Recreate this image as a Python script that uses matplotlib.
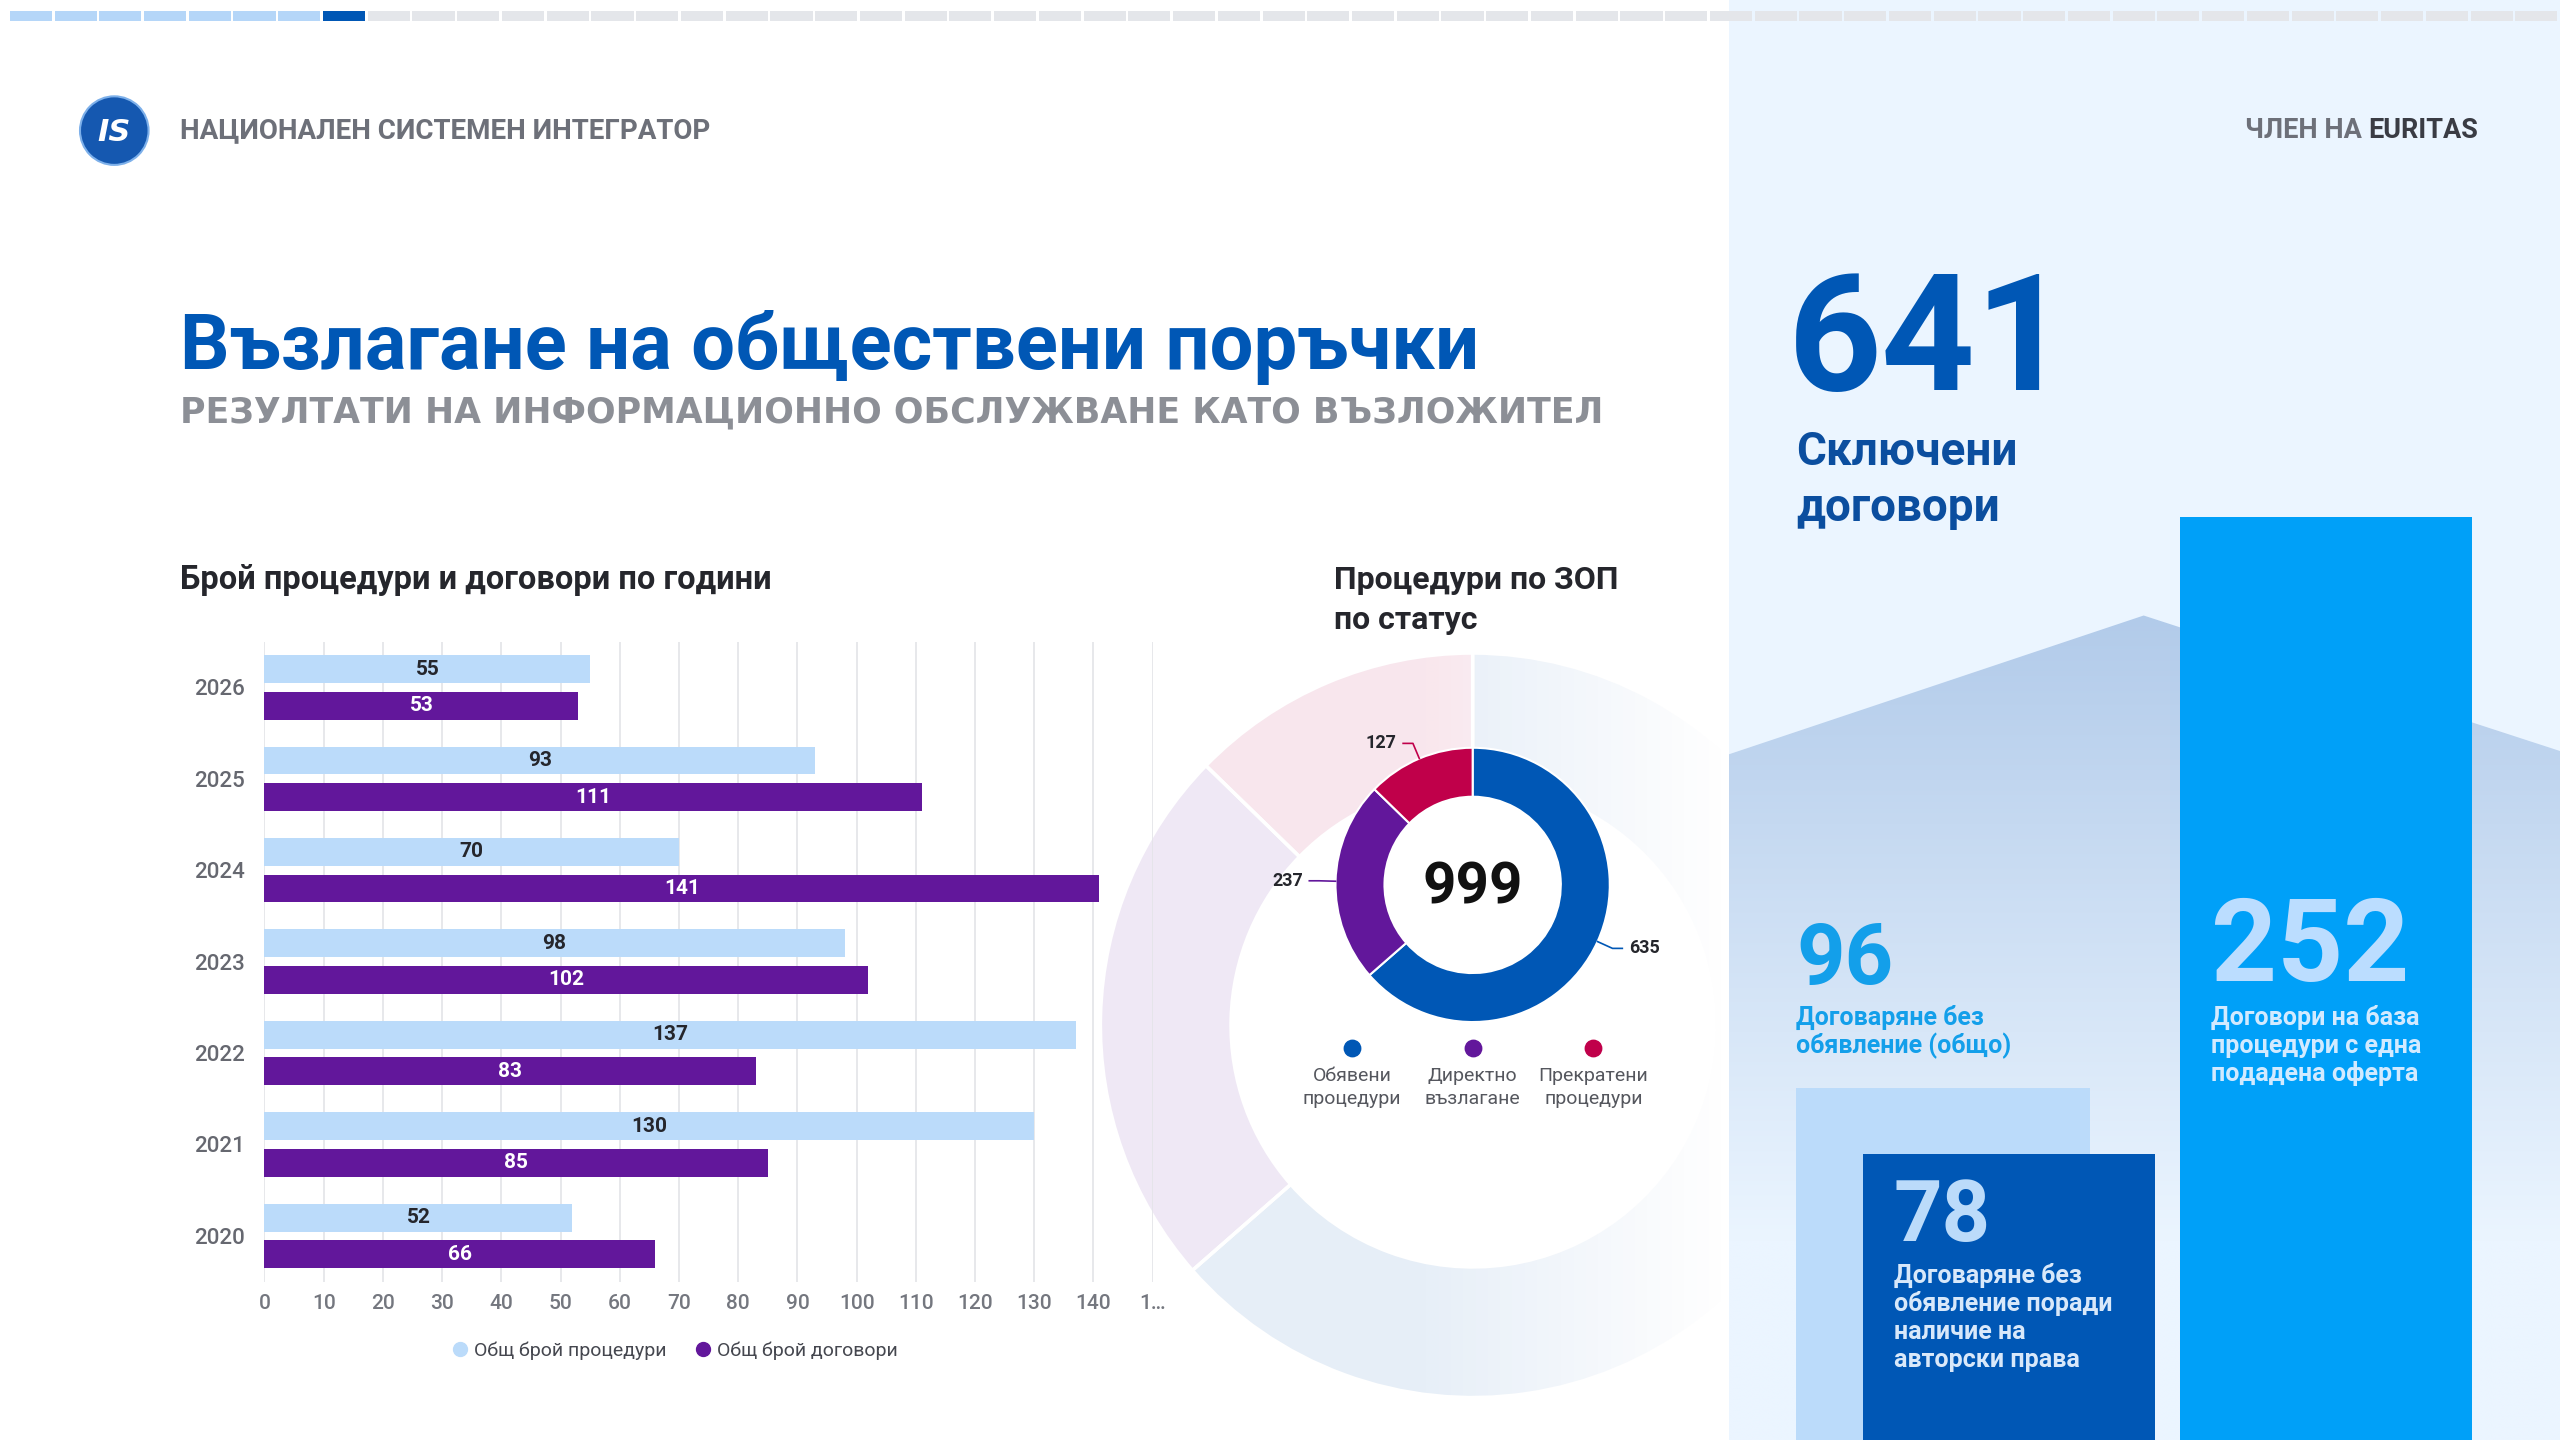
import numpy as np
import matplotlib
matplotlib.use("Agg")
import matplotlib.pyplot as plt
from matplotlib.patches import Rectangle, Polygon, Circle
from matplotlib.lines import Line2D
from matplotlib.colors import to_rgb

plt.rcParams['font.family'] = ['Roboto', 'DejaVu Sans']

# ---------------- data ----------------
years = ['2026', '2025', '2024', '2023', '2022', '2021', '2020']
procedures = [55, 93, 70, 98, 137, 130, 52]
contracts = [53, 111, 141, 102, 83, 85, 66]
bar_series = ['Общ брой процедури', 'Общ брой договори']
x_ticks = [0, 10, 20, 30, 40, 50, 60, 70, 80, 90, 100, 110, 120, 130, 140, 150]
x_tick_labels = ['0', '10', '20', '30', '40', '50', '60', '70', '80', '90',
                 '100', '110', '120', '130', '140', '1…']

status_labels = ['Обявени\nпроцедури', 'Директно\nвъзлагане', 'Прекратени\nпроцедури']
status_values = [635, 237, 127]

kpi_total = 641
kpi_total_label = ['Сключени', 'договори']
kpi_values = [96, 78, 252]
kpi_labels = [['Договаряне без', 'обявление (общо)'],
              ['Договаряне без', 'обявление поради', 'наличие на', 'авторски права'],
              ['Договори на база', 'процедури с една', 'подадена оферта']]

org_name = 'НАЦИОНАЛЕН СИСТЕМЕН ИНТЕГРАТОР'
member_prefix = 'ЧЛЕН НА'
member_name = 'EURITAS'
title = 'Възлагане на обществени поръчки'
subtitle = 'РЕЗУЛТАТИ НА ИНФОРМАЦИОННО ОБСЛУЖВАНЕ КАТО ВЪЗЛОЖИТЕЛ'
bar_title = 'Брой процедури и договори по години'
donut_title = ['Процедури по ЗОП', 'по статус']

progress_total = 57
progress_done = 7

# ---------------- style ----------------
BLUE = '#0057B5'
PURPLE = '#62179B'
CRIMSON = '#C0004A'
LIGHT = '#BBDBFA'
BRIGHT = '#00A0F8'
PANEL = '#EBF5FF'
DARK_TXT = '#25262C'
GREY_TXT = '#6D7079'
status_colors = [BLUE, PURPLE, CRIMSON]

W, H = 1568, 882
fig = plt.figure(figsize=(25.6, 14.4), dpi=100)
fig.patch.set_facecolor('white')


def fr(x0, y0, x1, y1):
    return [x0 / W, 1 - y1 / H, (x1 - x0) / W, (y1 - y0) / H]


def text_lines(ax, x, y0, lines, pitch, **kw):
    for i, ln in enumerate(lines):
        ax.text(x, y0 + i * pitch, ln, va='baseline', **kw)


# ---------------- bar chart ----------------
ax = fig.add_axes(fr(162, 393, 706, 785), zorder=2)
ax.patch.set_alpha(0)
pos = np.arange(len(years))
b1 = ax.barh(pos - 0.2, procedures, height=0.305, color=LIGHT, zorder=2)
b2 = ax.barh(pos + 0.2, contracts, height=0.305, color=PURPLE, zorder=2)
ax.bar_label(b1, label_type='center', fontsize=15, fontweight='bold', color=DARK_TXT)
ax.bar_label(b2, label_type='center', fontsize=15, fontweight='bold', color='white')
ax.set_xlim(0, 150)
ax.set_ylim(len(years) - 0.5, -0.5)
ax.set_xticks(x_ticks)
ax.set_xticklabels(x_tick_labels, fontweight='medium')
ax.set_yticks(pos)
ax.set_yticklabels(years, fontweight='medium')
ax.tick_params(axis='x', length=0, labelsize=15, colors='#74777F', pad=9)
ax.tick_params(axis='y', length=0, labelsize=16, colors='#666870', pad=14)
ax.grid(axis='x', color='#E3E4E8', lw=1.2)
ax.set_axisbelow(True)
for s in ax.spines.values():
    s.set_visible(False)
handles = [Line2D([], [], marker='o', ls='', markersize=10, markerfacecolor=c, markeredgecolor=c)
           for c in [LIGHT, PURPLE]]
ax.legend(handles, bar_series, loc='upper center', bbox_to_anchor=(0.461, -0.066), ncol=2,
          frameon=False, fontsize=14, handletextpad=0.2, columnspacing=1.4,
          labelcolor='#45474F', handlelength=1.0)

# ---------------- ghost ring ----------------
gx, gy, GR = 902, 628, 228
axg = fig.add_axes(fr(gx - GR, gy - GR, gx + GR, gy + GR), zorder=1)
gw, _ = axg.pie(status_values, colors=status_colors, startangle=90, counterclock=False, radius=1,
                wedgeprops=dict(width=80 / GR, edgecolor='white', linewidth=2.5))
xs = np.linspace(-1, 1, 500)
xd = gx + GR * xs
fade = np.clip((1062 - xd) / (1062 - 870), 0, 1)
for w, c in zip(gw, status_colors):
    img = np.zeros((4, 500, 4))
    img[..., :3] = to_rgb(c)
    img[..., 3] = 0.1 * fade
    im = axg.imshow(img, extent=(-1, 1, -1, 1), aspect='auto', zorder=0.5, interpolation='bilinear')
    im.set_clip_path(w)
    w.set_facecolor('none')
    w.set_zorder(1)
axg.set_xlim(-1, 1)
axg.set_ylim(-1, 1)
axg.set_axis_off()

# ---------------- donut ----------------
dx, dy, DR, half = 902, 542, 84, 140
axd = fig.add_axes(fr(dx - half, dy - half, dx + half, dy + half), zorder=2)
wedges, _ = axd.pie(status_values, colors=status_colors, startangle=90, counterclock=False, radius=1,
                    wedgeprops=dict(width=30 / DR, edgecolor='white', linewidth=1.5))
axd.set_xlim(-half / DR, half / DR)
axd.set_ylim(-half / DR, half / DR)
axd.set_axis_off()
axd.text(0, -0.02, str(sum(status_values)), ha='center', va='center', fontsize=42,
         fontweight='bold', color='#111111')
for w, v, c in zip(wedges, status_values, status_colors):
    ang = np.deg2rad((w.theta1 + w.theta2) / 2)
    cx, cy = np.cos(ang), np.sin(ang)
    side = 1 if cx > 0 else -1
    p1 = (1.12 * cx, 1.12 * cy)
    p2 = (p1[0] + side * 6 / DR, p1[1])
    axd.plot([cx, p1[0], p2[0]], [cy, p1[1], p2[1]], color=c, lw=1.2)
    axd.text(p2[0] + side * 4 / DR, p2[1], str(v), ha='left' if side > 0 else 'right',
             va='center', fontsize=13, fontweight='bold', color=DARK_TXT)

# ---------------- right panel ----------------
axp = fig.add_axes(fr(1059, 0, W, H), zorder=3)
axp.set_axis_off()
axp.add_patch(Rectangle((1059, 0), W - 1059, H, color=PANEL, zorder=0))
mountain = Polygon([(1059, 462), (1313, 377), (W, 460), (W, H), (1059, H)], closed=True,
                   fc='none', ec='none')
axp.add_patch(mountain)
ys = np.linspace(377, H, 300)
t = np.clip((ys - 377) / (760 - 377), 0, 1)
top_c = np.array(to_rgb('#B2CBEA'))
bot_c = np.array(to_rgb(PANEL))
col = top_c[None, :] * (1 - t[:, None]) + bot_c[None, :] * t[:, None]
img = np.repeat(col[:, None, :], 4, axis=1)
im = axp.imshow(img, extent=(1059, W, H, 377), aspect='auto', zorder=1, interpolation='bilinear')
im.set_clip_path(mountain)
axp.set_xlim(1059, W)
axp.set_ylim(H, 0)

# KPI bars (height proportional to value)
axk = fig.add_axes(fr(1059, 0, W, H), zorder=4)
axk.set_axis_off()
px_per_unit = 2.243
axk.set_xlim(1059, W)
axk.set_ylim(0, H / px_per_unit)
axk.bar([1190, 1230.5, 1424.5], kpi_values, width=[180, 179, 179],
        color=[LIGHT, BLUE, BRIGHT], zorder=2)

# ---------------- overlay texts ----------------
axt = fig.add_axes([0, 0, 1, 1], zorder=5)
axt.set_xlim(0, W)
axt.set_ylim(H, 0)
axt.set_axis_off()

pitch = (W - 6) / progress_total
for i in range(progress_total):
    if i < progress_done:
        c = '#B5D6F8'
    elif i == progress_done:
        c = BLUE
    else:
        c = '#E4E6EA'
    axt.add_patch(Rectangle((6 + i * pitch, 6.7), pitch - 1.6, 6, color=c, lw=0))

# logo
axt.add_patch(Circle((70, 80), 21, fc='#1558B0', ec='#7DB0EA', lw=1.5))
axt.text(70, 81, 'IS', ha='center', va='center', fontsize=22, fontweight='bold',
         style='italic', color='white', family=['DejaVu Sans'])

axt.text(110, 80, org_name, ha='left', va='center', fontsize=20, fontweight='bold',
         color=GREY_TXT)
t_m = axt.text(1518, 80, member_name, ha='right', va='center', fontsize=19.5, fontweight='bold',
               color='#3A3C44')
axt.annotate(member_prefix + ' ', xy=(0, 0.5), xycoords=t_m, ha='right', va='center',
             fontsize=19.5, fontweight='bold', color=GREY_TXT)

axt.text(110, 226, title, va='baseline', fontsize=56, fontweight='bold', color=BLUE)
axt.text(110, 259, subtitle, va='baseline', fontsize=25, fontweight='bold', color='#8C8F96',
         family=['DejaVu Sans'])

axt.text(110, 361, bar_title, va='baseline', fontsize=23.5, fontweight='bold', color=DARK_TXT)
text_lines(axt, 817, 361, donut_title, 24, fontsize=23, fontweight='bold', color=DARK_TXT)

# donut legend
for i, (lab, c) in enumerate(zip(status_labels, status_colors)):
    x = 828 + 74 * i
    axt.scatter([x], [642], s=140, color=c, zorder=3)
    text_lines(axt, x, 662, lab.split('\n'), 14, ha='center', fontsize=14, color='#55575E')

# KPI texts
axt.text(1095, 239, str(kpi_total), va='baseline', fontsize=118, fontweight='bold', color=BLUE)
text_lines(axt, 1100, 285, kpi_total_label, 34, fontsize=33, fontweight='bold', color='#0B4E9F')

axt.text(1100, 603, str(kpi_values[0]), va='baseline', fontsize=61, fontweight='bold',
         color='#139FEA')
text_lines(axt, 1100, 628, kpi_labels[0], 17, fontsize=18, fontweight='bold', color='#139FEA')

axt.text(1160, 760, str(kpi_values[1]), va='baseline', fontsize=61, fontweight='bold',
         color='#BBDBFA')
text_lines(axt, 1160, 786, kpi_labels[1], 17, fontsize=18, fontweight='bold', color='#D8E8FA')

axt.text(1354, 601, str(kpi_values[2]), va='baseline', fontsize=83, fontweight='bold',
         color='#BBDDFF')
text_lines(axt, 1354, 628, kpi_labels[2], 17, fontsize=18, fontweight='bold', color='#D2EAFF')

fig.savefig('out.png', dpi=100, facecolor='white')
